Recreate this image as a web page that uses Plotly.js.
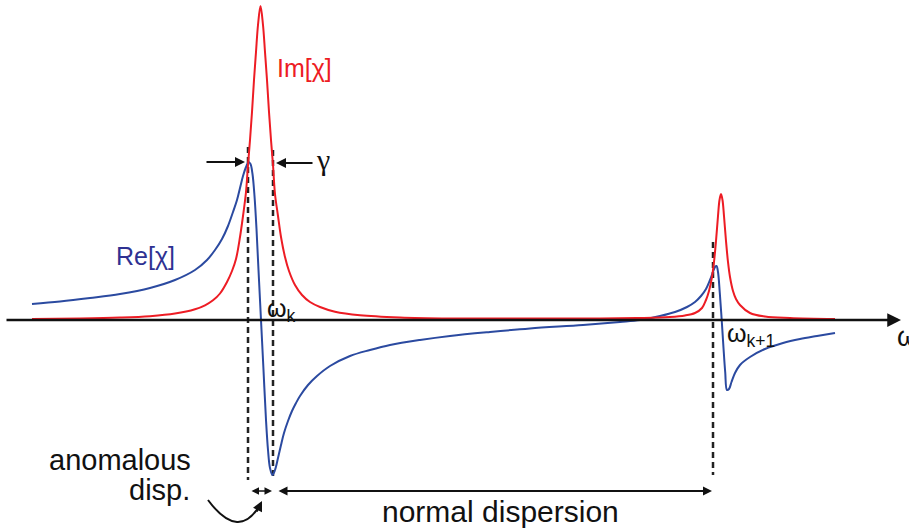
<!DOCTYPE html>
<html>
<head>
<meta charset="utf-8">
<script src="https://cdn.plot.ly/plotly-3.0.1.min.js"></script>
<style>html,body{margin:0;padding:0;background:#fff;}#chart{width:909px;height:528px;}</style>
</head>
<body>
<div id="chart"></div>
<script>
// Frequency axis (omega, arbitrary units) and susceptibility values
const imOmega = [32, 80, 120, 150, 175, 195, 205, 213, 220, 227, 232, 236, 240, 243, 246, 248, 250, 252, 254, 256, 258, 260.5, 263, 265, 267, 269, 271, 273, 275, 278, 281, 285, 289, 295, 302, 310, 320, 335, 360, 400, 450, 520, 600, 640, 670, 685, 695, 702, 706, 709, 712, 714, 716, 718, 719.5, 721, 722.5, 724, 726, 728, 730, 733, 736, 740, 750, 765, 790, 835];
const imChi   = [1, 1.5, 2.4, 3.8, 6.4, 10.7, 14.7, 19.7, 26.5, 38, 49, 61, 83, 104, 128, 155, 180, 208, 240, 268, 295, 314, 295, 268, 240, 208, 180, 155, 126, 104, 83, 63, 49, 35, 25, 18, 13, 8.3, 4.8, 2.6, 1.6, 1.4, 1.5, 2, 3, 4.5, 7, 12, 20, 29, 43, 58, 79, 104, 120, 126, 120, 104, 79, 58, 43, 29, 21, 15, 7, 3.5, 2, 1];

const reOmega = [32, 60, 90, 120, 150, 175, 195, 207, 215, 222, 228, 233, 237, 240, 243, 246, 248.5, 250.5, 252.5, 254.5, 256.5, 258.5, 261, 263.5, 266, 268, 270, 272.5, 275, 278, 281, 284, 288, 292, 296, 300, 308, 317, 330, 350, 370, 390, 420, 450, 490, 530, 583, 620, 640, 660, 675, 687, 695, 701, 706, 710, 713, 715, 716.5, 718, 719.8, 721.7, 723.5, 725.2, 727, 729, 731.5, 735, 740, 750, 765, 783, 800, 817, 835];
const reChi   = [16, 18.5, 22, 26, 32, 40, 50, 60, 70, 81, 94, 108, 120, 132, 144, 153, 158, 156, 146, 124, 91, 50, 0, -50, -100, -130, -148, -155, -150, -138, -125, -113, -101, -91, -83, -76, -65, -56, -46, -36, -30, -25, -20, -16, -12, -8.5, -5, -2, 0, 4, 8, 13, 18, 24, 31, 40, 48, 53, 54, 48, 27, 0, -28, -52, -70, -69, -62, -53, -45, -37, -29, -23, -19, -16, -13];

// Marked frequencies
const gammaEdges = [248, 273];       // half-width markers of resonance k
const omegaK1 = 713;                 // marker near resonance k+1
const SERIF = "Liberation Serif, Times New Roman, serif";
const labels = {
  im: "Im[χ]", re: "Re[χ]", gamma: "γ",
  wk: "ω<sub>k</sub>", wk1: "ω<sub>k+1</sub>", w: "ω",
  anom1: "anomalous", anom2: "disp.", normal: "normal dispersion"
};

const RED = "#ed1c24", BLUE = "#2b4aa0", TXTBLUE = "#2e3192";
const FONT = "Liberation Sans, Arial, sans-serif";

const traces = [
  {x: reOmega, y: reChi, mode: "lines", line: {color: BLUE, width: 2, shape: "spline", smoothing: 1}, hoverinfo: "skip"},
  {x: imOmega, y: imChi, mode: "lines", line: {color: RED, width: 2, shape: "spline", smoothing: 1}, hoverinfo: "skip"}
];

const dash = {color: "#222", width: 2.5, dash: "6px,4px"};
const shapes = [
  {type: "line", xref: "x", yref: "y", x0: gammaEdges[0], x1: gammaEdges[0], y0: 173, y1: -160, line: dash, layer: "below"},
  {type: "line", xref: "x", yref: "y", x0: gammaEdges[1], x1: gammaEdges[1], y0: 170, y1: -160, line: dash, layer: "below"},
  {type: "line", xref: "x", yref: "y", x0: omegaK1, x1: omegaK1, y0: 78, y1: -155, line: dash, layer: "below"},
  {type: "path", xref: "x", yref: "y", path: "M 208,-180 Q 239.5,-222.5 261,-183", line: {color: "#111", width: 2}}
];

function arrow(x, y, ax, ay, opts) {
  return Object.assign({x: x, y: y, ax: ax, ay: ay, xref: "x", yref: "y", axref: "x", ayref: "y",
    text: "", showarrow: true, arrowhead: 2, arrowsize: 1, arrowwidth: 2, arrowcolor: "#111"}, opts || {});
}
function label(x, y, text, color, size, opts) {
  return Object.assign({x: x, y: y, xref: "x", yref: "y", text: text, showarrow: false,
    font: {family: FONT, size: size, color: color}}, opts || {});
}

const annotations = [
  // frequency axis
  arrow(901, 0, 5, 0, {arrowwidth: 2.5, arrowsize: 1.1}),
  // gamma arrows
  arrow(245, 158, 205, 158),
  arrow(276, 157, 314, 157),
  // dispersion range arrows
  arrow(gammaEdges[1] - 1, -171, gammaEdges[0] + 2, -171, {arrowside: "end+start", arrowwidth: 1.5, arrowsize: 1}),
  arrow(omegaK1 - 1, -171, gammaEdges[1] + 4, -171, {arrowside: "end+start", arrowwidth: 2, arrowsize: 0.9}),
  // curved arrow head
  arrow(262, -181, 256, -193, {arrowwidth: 2, arrowsize: 1}),
  // labels
  label(304, 252, labels.im, RED, 25),
  label(145, 64, labels.re, TXTBLUE, 25),
  label(323, 161, labels.gamma, "#111", 30, {font: {family: SERIF, size: 30, color: "#111"}}),
  label(265, 10, labels.wk, "#111", 25, {xanchor: "left"}),
  label(725, -15, labels.wk1, "#111", 25, {xanchor: "left"}),
  label(895, -17, labels.w, "#111", 27, {xanchor: "left"}),
  label(120, -140, labels.anom1, "#111", 29),
  label(192, -170, labels.anom2, "#111", 29, {xanchor: "right"}),
  label(500, -191, labels.normal, "#111", 30)
];

const layout = {
  width: 909, height: 528,
  margin: {l: 0, r: 0, t: 0, b: 0},
  paper_bgcolor: "#fff", plot_bgcolor: "#fff",
  showlegend: false,
  xaxis: {range: [0, 909], visible: false, fixedrange: true},
  yaxis: {range: [-208, 320], visible: false, fixedrange: true},
  shapes: shapes,
  annotations: annotations
};

Plotly.newPlot("chart", traces, layout, {staticPlot: true, displayModeBar: false});
</script>
</body>
</html>
